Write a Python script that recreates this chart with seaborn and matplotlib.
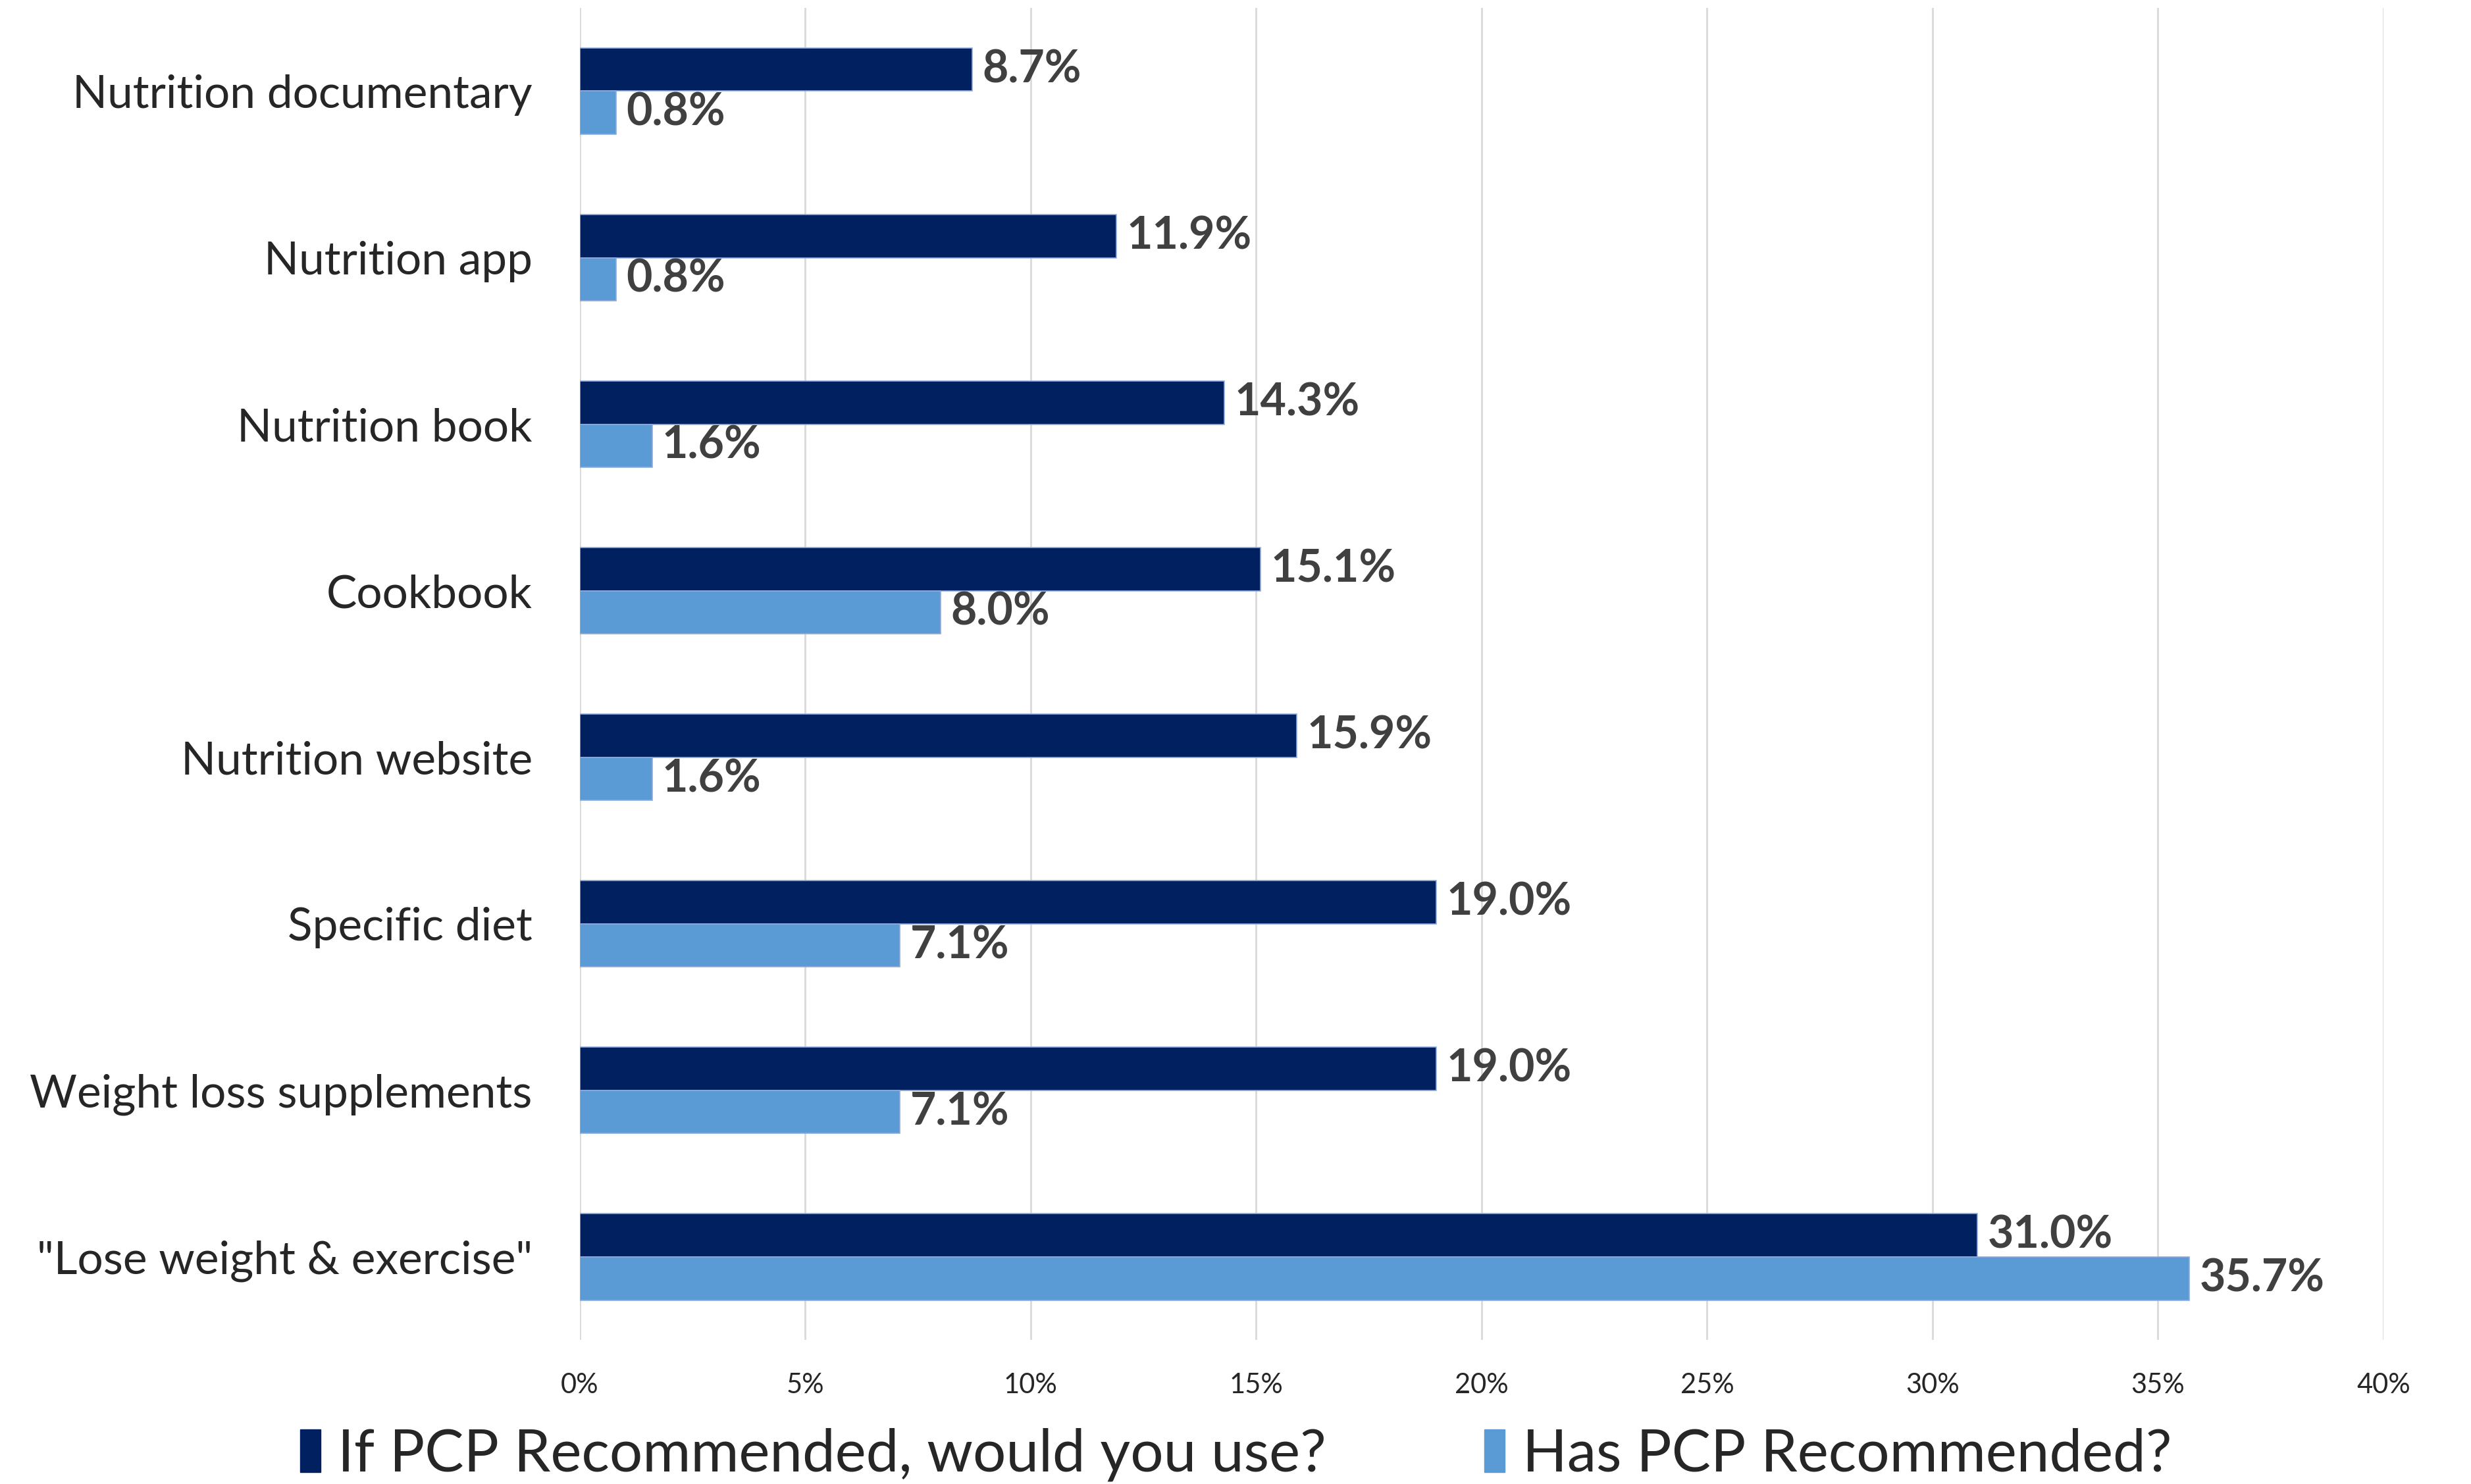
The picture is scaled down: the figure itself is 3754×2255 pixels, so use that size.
import matplotlib
matplotlib.use("Agg")
import matplotlib.pyplot as plt
import seaborn as sns
import pandas as pd

# values (percent)
categories = ["Nutrition documentary", "Nutrition app", "Nutrition book", "Cookbook",
              "Nutrition website", "Specific diet", "Weight loss supplements",
              "\"Lose weight & exercise\""]
would_use = [8.7, 11.9, 14.3, 15.1, 15.9, 19.0, 19.0, 31.0]
has_recommended = [0.8, 0.8, 1.6, 8.0, 1.6, 7.1, 7.1, 35.7]
series = ["If PCP Recommended, would you use?", "Has PCP Recommended?"]
xticks = [0, 5, 10, 15, 20, 25, 30, 35, 40]
colors = ["#002060", "#5B9BD5"]

df = pd.DataFrame({
    "category": categories * 2,
    "value": would_use + has_recommended,
    "series": [series[0]] * len(categories) + [series[1]] * len(categories),
})

sns.set_theme(style="white")
plt.rcParams["font.family"] = ["Lato", "DejaVu Sans"]

fig, ax = plt.subplots(figsize=(37.55, 22.55), dpi=100)
fig.subplots_adjust(left=0.2346, right=0.9643, top=0.9947, bottom=0.097)

sns.barplot(data=df, y="category", x="value", hue="series", hue_order=series,
            order=categories, palette=colors, saturation=1, orient="h", width=0.52,
            edgecolor="#8FAADC", linewidth=1.2, legend=False, ax=ax)

for cont in ax.containers:
    ax.bar_label(cont, labels=[f"{v:.1f}%" for v in cont.datavalues], padding=11,
                 fontsize=49, fontweight="bold", color="#404040")

ax.set_xlim(0, 40)
ax.set_ylim(len(categories) - 0.5, -0.5)
ax.set_xticks(xticks)
ax.set_xticklabels([f"{t}%" for t in xticks], fontsize=30)
ax.tick_params(axis="x", length=0, pad=36)
ax.tick_params(axis="y", length=0, pad=52, labelsize=50)
ax.set_xlabel("")
ax.set_ylabel("")
ax.xaxis.grid(True, color="#D9D9D9", linewidth=2)
ax.set_axisbelow(True)
for s in ax.spines.values():
    s.set_visible(False)

handles = [plt.Rectangle((0, 0), 1, 1, color=c) for c in colors]
fig.legend(handles, series, loc="lower center", bbox_to_anchor=(0.5, -0.034), ncol=2,
           frameon=False, fontsize=64, handlelength=0.35, handleheight=0.75,
           handletextpad=0.3, columnspacing=2.7)

fig.savefig("out.png", dpi=100)
